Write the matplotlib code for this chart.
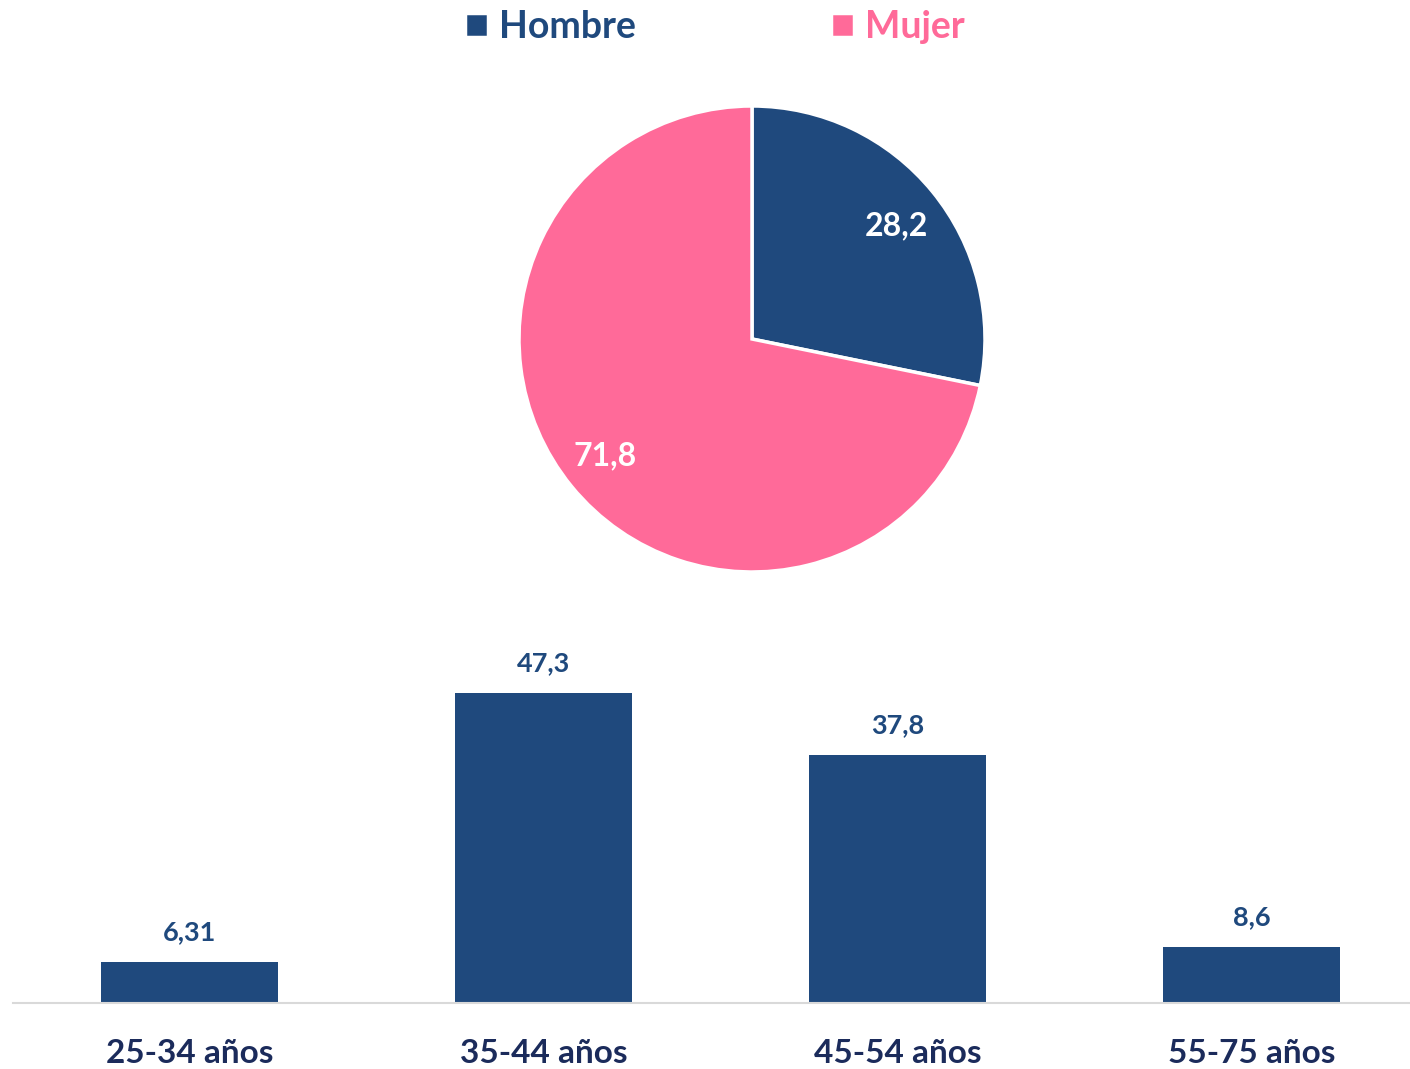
import numpy as np
import matplotlib
matplotlib.use("Agg")
import matplotlib.pyplot as plt

plt.rcParams['font.family'] = ['Lato', 'DejaVu Sans']
plt.rcParams['font.weight'] = 'bold'

# data
sexo = ['Hombre', 'Mujer']
sexo_pct = [28.2, 71.8]
edades = ['25-34 años', '35-44 años', '45-54 años', '55-75 años']
edad_vals = [6.31, 47.3, 37.8, 8.6]
edad_txt = ['6,31', '47,3', '37,8', '8,6']

azul = '#1f497d'
rosa = '#ff6a99'
marino = '#1b2b5b'

W, H = 1410, 1069
fig = plt.figure(figsize=(W / 100, H / 100), dpi=100)


# pie (centre 752,339 px, radius 233 px)
cx, cy, r = 752, 339, 233
side = 2.5 * r
ax_pie = fig.add_axes([(cx - side / 2) / W, (H - cy - side / 2) / H, side / W, side / H])
wedges, _, autot = ax_pie.pie(
    sexo_pct, colors=[azul, rosa], startangle=90, counterclock=False,
    autopct=lambda p: f"{p:.1f}".replace('.', ','), pctdistance=0.8,
    wedgeprops=dict(edgecolor='white', linewidth=2.5),
    textprops=dict(color='white', fontsize=23, fontweight='bold'))
ax_pie.set_xlim(-1.25, 1.25)
ax_pie.set_ylim(-1.25, 1.25)
# small nudges so the labels sit where they do in the original
px, py = autot[0].get_position()
autot[0].set_position((px, py - 0.02))
px, py = autot[1].get_position()
autot[1].set_position((px - 0.01, py + 0.005))

# legend
leg = fig.legend(wedges, sexo, loc='center', bbox_to_anchor=(715 / W, 1 - 27 / H),
                 ncol=2, frameon=False, fontsize=27, handlelength=0.6, handleheight=0.6,
                 handletextpad=0.3, columnspacing=5.2, borderpad=0)
for t, c in zip(leg.get_texts(), [azul, rosa]):
    t.set_color(c)
    t.set_fontweight('bold')


# bars (axis line at y=1003 px)
base = 1003
top = 600
scale = 6.554  # px per unit
ax = fig.add_axes([13 / W, (H - base) / H, 1416 / W, (base - top) / H])
x = np.arange(len(edades))
ax.bar(x, edad_vals, width=0.5, color=azul)
ax.set_xlim(-0.5, 3.5)
ax.set_ylim(0, (base - top) / scale)

for xi, v, t in zip(x, edad_vals, edad_txt):
    ax.annotate(t, (xi, v), xytext=(0, 21.5), textcoords='offset points',
                ha='center', va='center', fontsize=19.5, fontweight='bold', color=azul)

for s in ['top', 'left', 'right']:
    ax.spines[s].set_visible(False)
ax.spines['bottom'].set_color('#d9d9d9')
ax.spines['bottom'].set_linewidth(1.5)
ax.set_yticks([])
ax.set_xticks(x)
ax.set_xticklabels(edades, fontsize=24, fontweight='bold', color=marino)
ax.tick_params(axis='x', length=0, pad=26)

fig.savefig('out.png', dpi=100)
